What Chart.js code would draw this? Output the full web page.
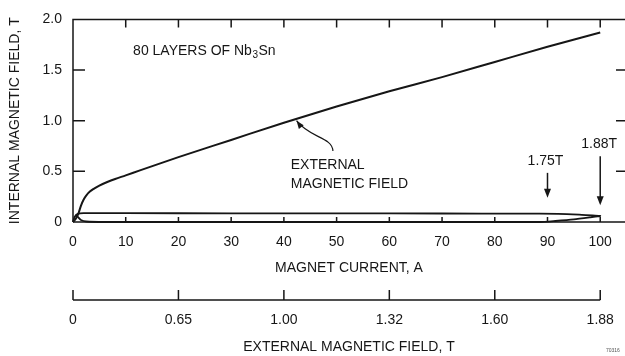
<!DOCTYPE html>
<html>
<head>
<meta charset="utf-8">
<script src="https://cdn.jsdelivr.net/npm/chart.js@4.4.1/dist/chart.umd.min.js"></script>
<style>
  html, body { margin: 0; padding: 0; background: #fff; overflow: hidden; }
  canvas { display: block; }
</style>
</head>
<body>
<canvas id="chart" width="625" height="356"></canvas>
<script>
// ---- data ----
const currentTicks = [0, 10, 20, 30, 40, 50, 60, 70, 80, 90, 100];
const fieldTicks = [0, 0.5, 1.0, 1.5, 2.0];
const extFieldTickCurrents = [0, 20, 40, 60, 80, 100];
const extFieldTickLabels = ['0', '0.65', '1.00', '1.32', '1.60', '1.88'];

// upper curve (external field trace)
const extCurrent = [0, 0.5, 1.0, 1.5, 2.0, 2.5, 3.2, 4.0, 5.0, 6.5, 8.0, 10, 12.7, 20, 30, 40, 50, 60, 70, 80, 90, 100];
const extField   = [0, 0.03, 0.08, 0.16, 0.22, 0.26, 0.30, 0.33, 0.36, 0.395, 0.425, 0.46, 0.51, 0.64, 0.81, 0.98, 1.14, 1.29, 1.43, 1.58, 1.73, 1.87];

// internal field loop (up branch, then back down)
const loopCurrent = [0, 0.3, 0.9, 2, 10, 30, 50, 70, 85, 92, 96, 100, 98, 95, 91.5, 88.5, 60, 30, 6, 2.5, 1.5, 1.0, 0.6];
const loopField   = [0, 0.05, 0.08, 0.087, 0.087, 0.086, 0.085, 0.084, 0.083, 0.08, 0.072, 0.06, 0.045, 0.025, 0.01, 0.0, 0.0, 0.0, 0.0, 0.005, 0.02, 0.045, 0.075];

const markerCurrents = [90, 100];
const markerLabels = ['1.75T', '1.88T'];

const FONT = '"Liberation Sans", Arial, sans-serif';
const INK = '#161616';

const toPoints = (xs, ys) => xs.map((v, i) => ({ x: v, y: ys[i] }));

const decor = {
  id: 'decor',
  afterDraw(chart) {
    const { ctx, chartArea: a, scales } = chart;
    const x = scales.x, y = scales.y, x2 = scales.x2;
    const px = v => x.getPixelForValue(v);
    const py = v => y.getPixelForValue(v);

    ctx.save();
    ctx.strokeStyle = INK;
    ctx.fillStyle = INK;
    ctx.lineWidth = 1.5;
    ctx.lineCap = 'butt';

    // frame (right edge is cropped in the original)
    ctx.beginPath();
    ctx.moveTo(a.left, a.bottom);
    ctx.lineTo(a.left, a.top);
    ctx.lineTo(a.right, a.top);
    ctx.moveTo(a.left, a.bottom);
    ctx.lineTo(a.right, a.bottom);
    ctx.stroke();

    // inward ticks
    ctx.beginPath();
    currentTicks.slice(1).forEach(v => {
      ctx.moveTo(px(v), a.top); ctx.lineTo(px(v), a.top + 8);
      ctx.moveTo(px(v), a.bottom); ctx.lineTo(px(v), a.bottom - 5);
    });
    fieldTicks.slice(1, -1).forEach(v => {
      ctx.moveTo(a.left, py(v)); ctx.lineTo(a.left + 12, py(v));
      ctx.moveTo(a.right, py(v)); ctx.lineTo(a.right - 9, py(v));
    });
    ctx.stroke();

    // second scale: external field
    const lineY = x2.top + 10;
    ctx.beginPath();
    ctx.moveTo(x2.getPixelForValue(0), lineY);
    ctx.lineTo(x2.getPixelForValue(100), lineY);
    extFieldTickCurrents.forEach(v => {
      ctx.moveTo(x2.getPixelForValue(v), lineY);
      ctx.lineTo(x2.getPixelForValue(v), lineY - 10);
    });
    ctx.stroke();

    // text notes
    ctx.font = '14px ' + FONT;
    ctx.textBaseline = 'middle';
    ctx.textAlign = 'left';
    let tx = px(11.4);
    const ty = py(1.69);
    const parts = ['80 LAYERS OF Nb', '3', 'Sn'];
    ctx.fillText(parts[0], tx, ty);
    tx += ctx.measureText(parts[0]).width + 0.5;
    ctx.font = '10px ' + FONT;
    ctx.fillText(parts[1], tx, ty + 4);
    tx += ctx.measureText(parts[1]).width + 0.5;
    ctx.font = '14px ' + FONT;
    ctx.fillText(parts[2], tx, ty);

    ctx.fillText('EXTERNAL', px(41.3), py(0.56));
    ctx.fillText('MAGNETIC FIELD', px(41.3), py(0.37));

    // leader from label to curve
    const p0 = [px(42.4), py(1.0)];
    const c1 = [px(44.8), py(0.83)];
    const c2 = [px(49.2), py(0.84)];
    const p3 = [px(49.3), py(0.70)];
    ctx.lineWidth = 1.2;
    ctx.beginPath();
    ctx.moveTo(p3[0], p3[1]);
    ctx.bezierCurveTo(c2[0], c2[1], c1[0], c1[1], p0[0], p0[1]);
    ctx.stroke();
    arrowHead(ctx, c1, p0, 8, 3);

    // value markers
    ctx.textAlign = 'center';
    markerCurrents.forEach((c, i) => {
      const mx = px(c);
      const top = i === 0 ? py(0.485) : py(0.65);
      const tip = i === 0 ? py(0.24) : py(0.165);
      const labY = i === 0 ? py(0.60) : py(0.77);
      ctx.fillText(markerLabels[i], mx - (i === 0 ? 2 : 1), labY);
      ctx.lineWidth = 1.5;
      ctx.beginPath();
      ctx.moveTo(mx, top);
      ctx.lineTo(mx, tip - 6);
      ctx.stroke();
      arrowHead(ctx, [mx, top], [mx, tip], 9, 3.5);
    });

    // tiny figure id
    ctx.font = '5px ' + FONT;
    ctx.textAlign = 'left';
    ctx.fillStyle = '#555';
    ctx.fillText('70316', 606, 351);
    ctx.restore();
  }
};

function arrowHead(ctx, from, to, len, half) {
  const ang = Math.atan2(to[1] - from[1], to[0] - from[0]);
  const bx = to[0] - len * Math.cos(ang), by = to[1] - len * Math.sin(ang);
  ctx.beginPath();
  ctx.moveTo(to[0], to[1]);
  ctx.lineTo(bx + half * Math.sin(ang), by - half * Math.cos(ang));
  ctx.lineTo(bx - half * Math.sin(ang), by + half * Math.cos(ang));
  ctx.closePath();
  ctx.fill();
}

const tickFont = { family: FONT, size: 14 };
const titleFont = { family: FONT, size: 14 };

// no automatic side padding: the plot runs to the right edge of the page
const fixHeight = h => s => { s.height = h; s.paddingLeft = 0; s.paddingRight = 0; };

new Chart(document.getElementById('chart'), {
  type: 'scatter',
  data: {
    datasets: [
      {
        label: 'External field',
        data: toPoints(extCurrent, extField),
        showLine: true,
        borderColor: INK,
        borderWidth: 2,
        pointRadius: 0,
        cubicInterpolationMode: 'monotone',
        clip: 4
      },
      {
        label: 'Internal field',
        data: toPoints(loopCurrent, loopField),
        showLine: true,
        borderColor: INK,
        borderWidth: 1.8,
        pointRadius: 0,
        tension: 0.2,
        clip: 4
      }
    ]
  },
  options: {
    responsive: false,
    animation: false,
    layout: { padding: { top: 16, left: 0, right: 0, bottom: 0 } },
    plugins: { legend: { display: false }, tooltip: { enabled: false } },
    scales: {
      x: {
        type: 'linear', position: 'bottom', weight: 0,
        min: 0, max: 104.7,
        afterBuildTicks: s => { s.ticks = currentTicks.map(v => ({ value: v })); },
        afterFit: fixHeight(68),
        grid: { display: false, drawTicks: false },
        border: { display: false },
        ticks: { font: tickFont, color: INK, padding: 12, maxRotation: 0, callback: v => String(v) },
        title: { display: true, text: 'MAGNET CURRENT, A', font: titleFont, color: INK, padding: { top: 0, bottom: 13 } }
      },
      x2: {
        type: 'linear', position: 'bottom', weight: 1,
        min: 0, max: 104.7,
        afterBuildTicks: s => { s.ticks = extFieldTickCurrents.map(v => ({ value: v })); },
        afterFit: fixHeight(66),
        grid: { display: false, drawTicks: false },
        border: { display: false },
        ticks: {
          font: tickFont, color: INK, padding: 22, maxRotation: 0,
          callback: v => extFieldTickLabels[extFieldTickCurrents.indexOf(v)]
        },
        title: { display: true, text: 'EXTERNAL MAGNETIC FIELD, T', font: titleFont, color: INK, padding: { top: 0, bottom: 0 } }
      },
      y: {
        type: 'linear', position: 'left',
        min: 0, max: 2,
        afterBuildTicks: s => { s.ticks = fieldTicks.map(v => ({ value: v })); },
        afterFit: s => { s.width = 73; },
        grid: { display: false, drawTicks: false },
        border: { display: false },
        ticks: { font: tickFont, color: INK, padding: 11, callback: v => v === 0 ? '0' : v.toFixed(1) },
        title: { display: true, text: 'INTERNAL MAGNETIC FIELD, T', font: titleFont, color: INK, padding: { top: 7, bottom: 0 } }
      }
    }
  },
  plugins: [decor]
});
</script>
</body>
</html>
